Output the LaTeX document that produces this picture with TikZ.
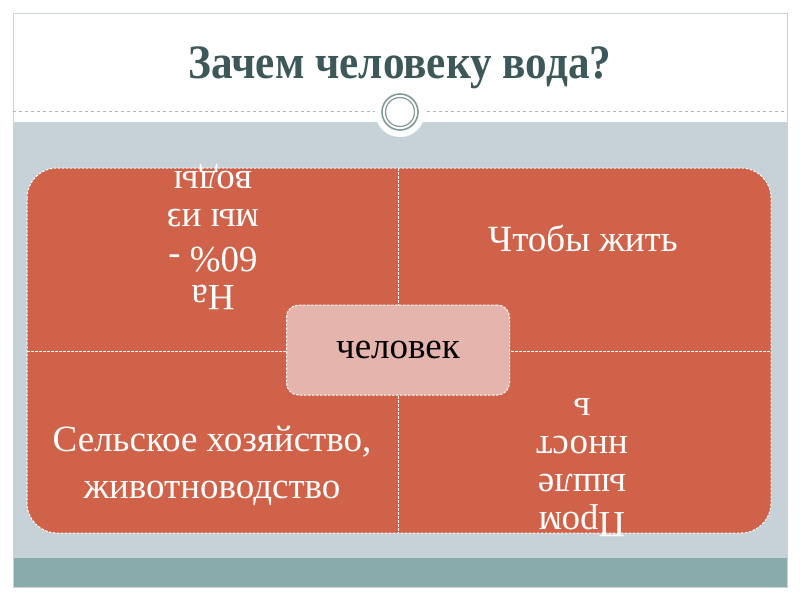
\documentclass[tikz,border=0pt]{standalone}
\usepackage{fontspec}
\setmainfont{Liberation Serif}
\newfontfamily\titlefont[FakeStretch=0.9]{Liberation Serif}
\definecolor{brick}{HTML}{CF6249}
\definecolor{pinkbox}{HTML}{E5B4AD}
\definecolor{bandgray}{HTML}{C6D2D8}
\definecolor{bandteal}{HTML}{8AABAB}
\definecolor{titleink}{HTML}{3D5858}
\definecolor{ringgray}{HTML}{7F9B9B}
\definecolor{framegray}{HTML}{C9D4D8}

\begin{document}
\begin{tikzpicture}[x=1pt,y=-1pt,
  seam/.style={white,line width=1pt,dash pattern=on 2.5pt off 1.5pt},
  cell/.style={text=white,align=center,font=\fontsize{37}{38}\selectfont},
  hub/.style={draw,seam,fill=pinkbox,rounded corners=12pt,minimum width=223pt,minimum height=90pt,
    text=black,font=\fontsize{37}{38}\selectfont}]
\useasboundingbox (0,0) rectangle (800,600);
% slide frame
\fill[white] (0,0) rectangle (800,600);
\fill[bandgray] (13,122) rectangle (787,558);
\fill[bandteal] (13,558) rectangle (787,587);
\draw[framegray,line width=1pt] (13,13) rectangle (787,587);
\draw[ringgray!70,dashed,line width=.6pt] (13,111)--(787,111);
\fill[white] (400,112) circle(25);
\draw[ringgray,line width=1.6pt] (400,112) circle(18);
\draw[ringgray,line width=1.2pt] (400,112) circle(14.5);
\node[titleink,font=\titlefont\bfseries\fontsize{48}{56}\selectfont] (title) at (400,68) {Зачем человеку вода?};
% quadrants
\fill[brick,rounded corners=30pt] (27,168) rectangle (771,533);
\draw[seam,rounded corners=30pt] (27,168) rectangle (771,533);
\draw[seam] (398,168)--(398,533);
\draw[seam] (27,351)--(771,351);
\node[cell,rotate=180] (body) at (213,237) {На\\60\% -\\мы из\\воды};
\node[cell] (life) at (583,238) {Чтобы жить};
\node[cell,font=\fontsize{37}{47}\selectfont] (farm) at (212,466) {Сельское хозяйство,\\животноводство};
\node[cell,rotate=180] (industry) at (582,468) {Пром\\ышле\\нност\\ь};
\node[hub] (man) at (398,350) {человек};
\end{tikzpicture}
\end{document}
